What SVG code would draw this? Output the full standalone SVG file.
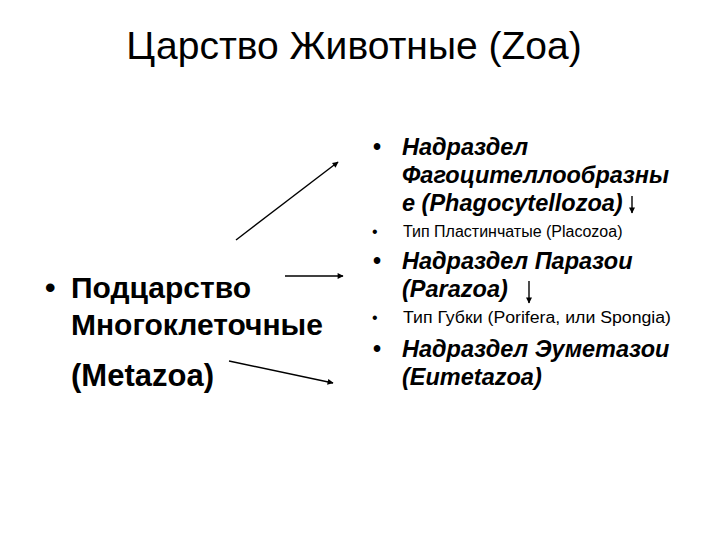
<svg xmlns="http://www.w3.org/2000/svg" width="720" height="540" viewBox="0 0 720 540">
<defs>
<style>
text{font-family:"Liberation Sans",Arial,sans-serif;fill:#000}
.title{font-size:39px;text-anchor:middle}
.left{font-size:30px;font-weight:bold}
.meta{font-size:31px;font-weight:bold}
.big{font-size:23.5px;font-weight:bold;font-style:italic}
.bul{font-size:23px;font-weight:bold}
.small{font-size:16px}
.conn{stroke:#000;stroke-width:1.4;fill:none;marker-end:url(#ah)}
</style>
<marker id="ah" viewBox="0 0 10 10" refX="9" refY="5" markerWidth="7" markerHeight="6" markerUnits="userSpaceOnUse" orient="auto">
<path d="M0,0 L10,5 L0,10 z" fill="#000"/>
</marker>
</defs>
<rect width="720" height="540" fill="#fff"/>
<g id="title"><text class="title" x="354" y="59">Царство Животные (Zoa)</text></g>
<g id="metazoa">
<text class="left" x="45" y="298">•</text>
<text class="left" x="71" y="298">Подцарство</text>
<text class="left" x="71" y="335">Многоклеточные</text>
<text class="meta" x="71" y="386">(Metazoa)</text>
</g>
<g id="phagocytellozoa">
<text class="bul" x="373" y="155">•</text>
<text class="big" x="402" y="155">Надраздел</text>
<text class="big" x="402" y="183">Фагоцителлообразны</text>
<text class="big" x="402" y="211">е (Phagocytellozoa)</text>
</g>
<g id="placozoa">
<text class="small" x="372" y="237">•</text>
<text class="small" x="403" y="237">Тип Пластинчатые (Placozoa)</text>
</g>
<g id="parazoa">
<text class="bul" x="373" y="269">•</text>
<text class="big" x="402" y="269">Надраздел Паразои</text>
<text class="big" x="402" y="297">(Parazoa)</text>
</g>
<g id="porifera">
<text class="small" x="372" y="323">•</text>
<text class="small" x="403" y="323" textLength="268" lengthAdjust="spacingAndGlyphs">Тип Губки (Porifera, или Spongia)</text>
</g>
<g id="eumetazoa">
<text class="bul" x="373" y="357">•</text>
<text class="big" x="402" y="357">Надраздел Эуметазои</text>
<text class="big" x="402" y="385">(Eumetazoa)</text>
</g>
<g id="connectors">
<line class="conn" x1="236" y1="240" x2="338" y2="162"/>
<line class="conn" x1="285" y1="276" x2="343" y2="276"/>
<line class="conn" x1="229" y1="361" x2="333" y2="383"/>
<line class="conn" x1="632" y1="196" x2="632" y2="213"/>
<line class="conn" x1="529" y1="281" x2="529" y2="303"/>
</g>
</svg>
